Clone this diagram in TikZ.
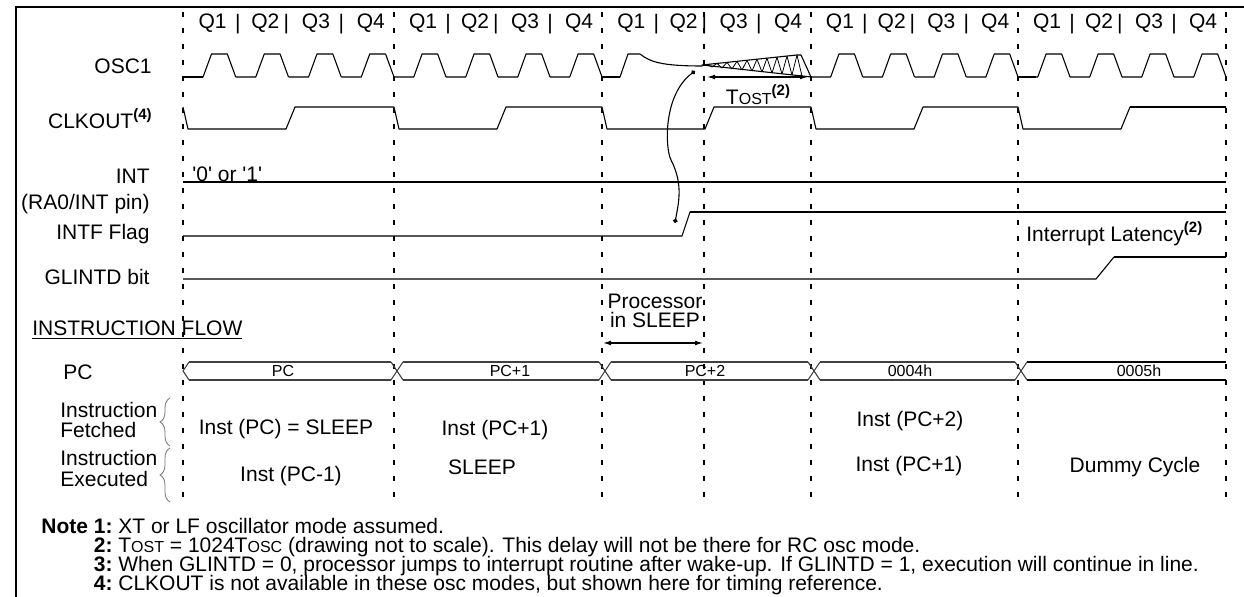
\documentclass[tikz,border=0pt]{standalone}
\usepackage{fontspec}
\setmainfont{Liberation Sans}
\usetikzlibrary{arrows.meta,decorations.pathreplacing}

\newcommand\smcap[1]{{\fontsize{8}{9}\selectfont #1}}
\newcommand\noteref[1]{\raisebox{0.8ex}{\fontsize{7.5}{8}\selectfont\bfseries(#1)}}

\tikzset{
  sig/.style={line width=0.55pt, line join=round},
  sigthick/.style={line width=1pt},
  cycleline/.style={line width=1pt, dash pattern=on 2.5pt off 5.5pt},
  frameline/.style={line width=1pt},
  lbl/.style={anchor=east, inner sep=0pt},
  txt/.style={inner sep=0pt},
  buslbl/.style={inner sep=0pt, font=\fontsize{8}{9}\selectfont},
  bus/.style={line width=0.55pt, black!75},
  notenum/.style={anchor=base east, inner sep=0pt, font=\fontsize{10.5}{12}\selectfont\bfseries},
  notetxt/.style={anchor=base west, inner sep=0pt, font=\fontsize{10.5}{12}\selectfont},
  dimarrow/.style={{Latex[length=4pt,width=2.4pt]}-{Latex[length=4pt,width=2.4pt]}, line width=0.6pt},
  instbrace/.style={decorate, decoration={brace, amplitude=5pt}, black!55, line width=0.4pt},
  wakecurve/.style={{Circle[length=2.2pt]}-{Circle[length=2.2pt]}, line width=0.55pt}
}

\begin{document}
\begin{tikzpicture}[x=0.5pt,y=-0.5pt,font=\fontsize{10.5}{12}\selectfont]
\useasboundingbox (0,0) rectangle (1244,597);
% frame
\draw[frameline] (16,597) -- (16,7) -- (1244,7);
% cycle boundaries
\foreach \x in {183,394,602,704,811,1018,1226}
  \draw[cycleline] (\x,12) -- (\x,498);
% quarter labels
\foreach \b/\e [count=\c] in {183/394,394/602,602/811,811/1018,1018/1226} {
  \pgfmathsetmacro\w{\e-\b}
  \node[txt] (q\c-1) at ({\b+0.14*\w},23) {Q1};
  \node[txt] (q\c-2) at ({\b+0.39*\w},23) {Q2};
  \node[txt] (q\c-3) at ({\b+0.63*\w},23) {Q3};
  \node[txt] (q\c-4) at ({\b+0.89*\w},23) {Q4};
  \node[txt] at ({\b+0.26*\w},24) {|};
  \node[txt] at ({\b+0.49*\w},24) {|};
  \node[txt] at ({\b+0.75*\w},24) {|};
}

% signal names
\node[lbl] (osclbl) at (152,66) {OSC1};
\node[lbl] (clklbl) at (152,119) {CLKOUT\noteref{4}};
\node[lbl] (intlbl) at (150,176) {INT};
\node[lbl] (pinlbl) at (150,204) {(RA0/INT pin)};
\node[lbl] (intflbl) at (150,234) {INTF Flag};
\node[lbl] (glintdlbl) at (150,277) {GLINTD bit};
\node[txt, anchor=west] (flowlbl) at (32,330) {\underline{INSTRUCTION FLOW}};
\node[txt] (pclbl) at (78,372) {PC};
\node[txt, anchor=west, align=left, font=\fontsize{10.5}{10}\selectfont] (fetchlbl) at (60,420) {Instruction\\Fetched};
\node[txt, anchor=west, align=left, font=\fontsize{10.5}{10.5}\selectfont] (execlbl) at (60,469) {Instruction\\Executed};
\draw[instbrace] (170,446) -- (170,398);
\draw[instbrace] (170,502) -- (170,448);

% OSC1
\foreach \b/\e in {183/394,394/602,811/1018,1018/1226}
  \foreach \j in {0,...,3} {
    \pgfmathsetmacro\q{\b+\j*(\e-\b)/4}
    \pgfmathsetmacro\qw{(\e-\b)/4}
    \draw[sig] (\q,77) -- ({\q+0.38*\qw},77) -- ({\q+0.54*\qw},54)
      -- ({\q+0.84*\qw},54) -- ({\q+\qw},77);
  }
\draw[sigthick] (183,77) -- (203,77);
\draw[sigthick] (1018,77) -- (1036,77);
\draw[sig] (602,77) -- (620,77) -- (628,54) -- (640,54)
  .. controls (650,62) and (662,66) .. (702,66);
\draw[sigthick] (602,77) -- (620,77);
\draw[sig] (702,65) -- (797,55) -- (801,55) -- (811,77) -- cycle;
\foreach \k in {0,...,9}
  \draw[sig, line width=0.4pt] ({702+10*\k},{66+10*\k*0.101})
    -- ({707+10*\k},{65-(5+10*\k)*0.105}) -- ({712+10*\k},{66+(10+10*\k)*0.101});
\coordinate (tostL) at (707,77);
\coordinate (tostR) at (808,77);
\draw[dimarrow] (tostL) -- (tostR);
\node[txt] (tostlbl) at (758,95) {T\smcap{OST}\noteref{2}};

% CLKOUT
\foreach \b/\e in {183/394,394/602,602/811,811/1018,1018/1226}
  \draw[sig] (\b,107) -- ({\b+5},129) -- ({\b+103},129) -- ({\b+112},107) -- (\e,107);
\draw[sigthick] (1130,107) -- (1226,107);

% INT, INTF, GLINTD
\draw[sigthick] (183,182) -- (1226,182);
\node[txt, anchor=west] (intval) at (192,174) {\textquotesingle 0\textquotesingle{} or \textquotesingle 1\textquotesingle};
\draw[sig] (183,236) -- (682,236) -- (690,212);
\draw[sigthick] (690,212) -- (1226,212);
\draw[sig] (183,279) -- (1096,279) -- (1114,257);
\draw[sigthick] (1114,257) -- (1226,257);
\node[txt, anchor=west] (latlbl) at (1026,234) {Interrupt Latency\noteref{2}};

% wake-up
\coordinate (intfdot) at (675,223);
\coordinate (wake) at (695,71);
\draw[wakecurve] (intfdot) .. controls (678,205) and (684,185) .. (671,160)
  .. controls (665,148) and (663,95) .. (wake);

% sleep
\node[txt, align=center, font=\fontsize{10.5}{9.5}\selectfont] (sleeplbl) at (655,311) {Processor\\in SLEEP};
\coordinate (sleepL) at (603,343);
\coordinate (sleepR) at (703,343);
\draw[dimarrow] (sleepL) -- (sleepR);

% PC bus
\draw[bus] (189,362) -- (183,371) -- (189,380);
\foreach \x in {394,602,811,1018}
  \draw[bus] (\x-3,362) -- (\x+9,380) (\x-3,380) -- (\x+9,362);
\foreach \b/\e in {189/391,403/599,611/808,820/1015}
  \draw[bus] (\b,362) -- (\e,362) (\b,380) -- (\e,380);
\draw[bus, line width=1pt, black] (1027,362) -- (1226,362) (1027,380) -- (1226,380);
\node[buslbl] (pc0) at (283,371) {PC};
\node[buslbl] (pc1) at (510,371) {PC+1};
\node[buslbl] (pc2) at (705,371) {PC+2};
\node[buslbl] (pc3) at (910,371) {0004h};
\node[buslbl] (pc4) at (1139,371) {0005h};

% fetched / executed
\node[txt] (fetch1) at (286,429) {Inst (PC) = SLEEP};
\node[txt] (fetch2) at (495,430) {Inst (PC+1)};
\node[txt] (fetch4) at (910,421) {Inst (PC+2)};
\node[txt] (exec1) at (291,476) {Inst (PC-1)};
\node[txt] (exec2) at (482,467) {SLEEP};
\node[txt] (exec4) at (909,466) {Inst (PC+1)};
\node[txt] (exec5) at (1135,467) {Dummy Cycle};

% notes
\node[notenum] (note1) at (113,534) {Note 1:};
\node[notetxt] (note1txt) at (118,534) {XT or LF oscillator mode assumed.};
\node[notenum] (note2) at (113,553) {2:};
\node[notetxt] (note2txt) at (118,553) {T\smcap{OST} = 1024T\smcap{OSC} (drawing not to scale). This delay will not be there for RC osc mode.};
\node[notenum] (note3) at (113,572) {3:};
\node[notetxt] (note3txt) at (118,572) {When GLINTD = 0, processor jumps to interrupt routine after wake-up. If GLINTD = 1, execution will continue in line.};
\node[notenum] (note4) at (113,591) {4:};
\node[notetxt] (note4txt) at (118,591) {CLKOUT is not available in these osc modes, but shown here for timing reference.};
\end{tikzpicture}
\end{document}
